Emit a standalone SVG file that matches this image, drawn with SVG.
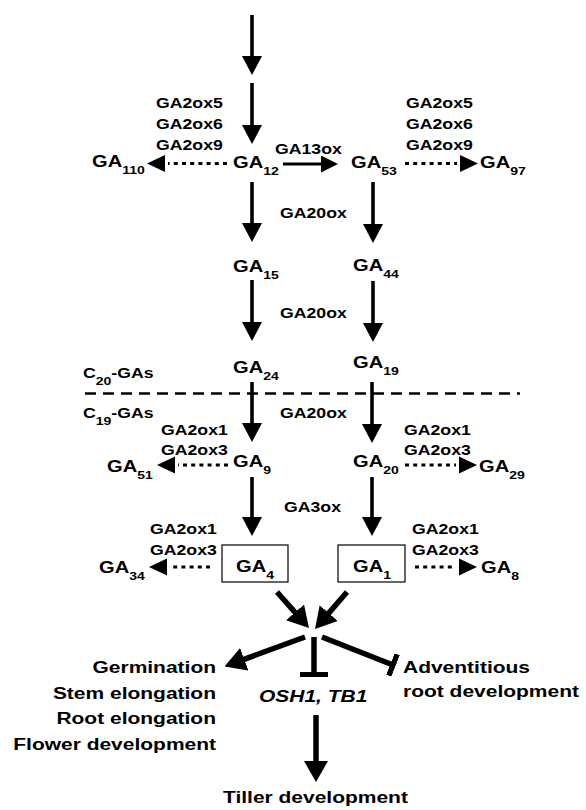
<svg xmlns="http://www.w3.org/2000/svg" width="586" height="810" viewBox="0 0 586 810">
<style>
text{font-family:"Liberation Sans",Arial,Helvetica,sans-serif;font-weight:bold;fill:#000}
.ga{font-size:16.5px}
.lb{font-size:14.5px}
.bt{font-size:17.2px}
.it{font-style:italic}
.sub{font-size:11.5px}
.end{text-anchor:end}
.th{stroke:#000;stroke-width:3.6;fill:none}
.hz{stroke:#000;stroke-width:3;fill:none}
.dt{stroke:#000;stroke-width:3;stroke-dasharray:4 4.2;fill:none}
.tk{stroke:#000;stroke-width:5.5;fill:none}
.dash{stroke:#000;stroke-width:2.5;stroke-dasharray:11 7;fill:none}
.box{fill:#fff;stroke:#000;stroke-width:1.2}
</style>
<defs>
<marker id="hv" markerUnits="userSpaceOnUse" viewBox="0 0 19 20" markerWidth="19" markerHeight="20" refX="1" refY="10" orient="auto"><path d="M0,0 L19,10 L0,20 Z"/></marker>
<marker id="hs" markerUnits="userSpaceOnUse" viewBox="0 0 17 17" markerWidth="17" markerHeight="17" refX="1" refY="8.5" orient="auto"><path d="M0,0 L17,8.5 L0,17 Z"/></marker>
<marker id="hd" markerUnits="userSpaceOnUse" viewBox="0 0 18 17" markerWidth="18" markerHeight="17" refX="-3" refY="8.5" orient="auto" overflow="visible"><path d="M0,0 L18,8.5 L0,17 Z"/></marker>
<marker id="hb" markerUnits="userSpaceOnUse" viewBox="0 0 21 24" markerWidth="21" markerHeight="24" refX="1" refY="12" orient="auto"><path d="M0,0 L21,12 L0,24 Z"/></marker>
<marker id="tee" markerUnits="userSpaceOnUse" viewBox="0 0 5.5 28" markerWidth="5.5" markerHeight="28" refX="2.75" refY="14" orient="auto"><rect x="0" y="0" width="5.5" height="28"/></marker>
<marker id="tee2" markerUnits="userSpaceOnUse" viewBox="0 0 5.5 23" markerWidth="5.5" markerHeight="23" refX="2.75" refY="11.5" orient="auto"><rect x="0" y="0" width="5.5" height="23"/></marker>
</defs>

<g id="connectors">
<line class="th" x1="252" y1="15" x2="252" y2="57" marker-end="url(#hv)"/>
<line class="th" x1="252" y1="83" x2="252" y2="126" marker-end="url(#hv)"/>
<line class="th" x1="252" y1="182" x2="252" y2="224" marker-end="url(#hv)"/>
<line class="th" x1="373" y1="182" x2="373" y2="225" marker-end="url(#hv)"/>
<line class="th" x1="252" y1="280" x2="252" y2="323" marker-end="url(#hv)"/>
<line class="th" x1="373" y1="281" x2="373" y2="324" marker-end="url(#hv)"/>
<line class="th" x1="252" y1="382" x2="252" y2="424" marker-end="url(#hv)"/>
<line class="th" x1="372" y1="382" x2="372" y2="425" marker-end="url(#hv)"/>
<line class="th" x1="252" y1="477" x2="252" y2="518" marker-end="url(#hv)"/>
<line class="th" x1="372" y1="477" x2="372" y2="518" marker-end="url(#hv)"/>
<line class="hz" x1="283" y1="164" x2="322" y2="164" marker-end="url(#hs)"/>
<line class="dt" x1="227" y1="163.5" x2="168" y2="163.5" marker-end="url(#hd)"/>
<line class="dt" x1="405" y1="163.5" x2="457" y2="163.5" marker-end="url(#hd)"/>
<line class="dt" x1="228" y1="465" x2="178" y2="465" marker-end="url(#hd)"/>
<line class="dt" x1="405" y1="465" x2="456" y2="465" marker-end="url(#hd)"/>
<line class="dt" x1="210" y1="567" x2="170" y2="567" marker-end="url(#hd)"/>
<line class="dt" x1="415" y1="567" x2="456" y2="567" marker-end="url(#hd)"/>
<line class="dash" x1="85" y1="393.5" x2="520" y2="393.5"/>
<line class="tk" x1="277" y1="592" x2="295.7" y2="613.1" marker-end="url(#hb)"/>
<line class="tk" x1="347" y1="592" x2="328.1" y2="613.9" marker-end="url(#hb)"/>
<line class="tk" x1="305" y1="637" x2="243.3" y2="659.6" marker-end="url(#hb)"/>
<line class="tk" x1="314" y1="637" x2="314" y2="674.5" marker-end="url(#tee)"/>
<line class="tk" x1="322" y1="637" x2="393" y2="665" marker-end="url(#tee2)"/>
<line class="tk" x1="316" y1="715" x2="316" y2="762" marker-end="url(#hb)"/>
</g>

<g id="enz-2ox-a"><text class="lb" transform="translate(156 108) scale(1.22 1)">GA2ox5</text><text class="lb" transform="translate(156 129) scale(1.22 1)">GA2ox6</text><text class="lb" transform="translate(156 150) scale(1.22 1)">GA2ox9</text></g>
<g id="enz-2ox-b"><text class="lb" transform="translate(406 108) scale(1.22 1)">GA2ox5</text><text class="lb" transform="translate(406 129) scale(1.22 1)">GA2ox6</text><text class="lb" transform="translate(406 150) scale(1.22 1)">GA2ox9</text></g>
<g id="enz-13ox"><text class="lb" transform="translate(275 154) scale(1.22 1)">GA13ox</text></g>
<g id="GA110"><text class="ga" transform="translate(92 167) scale(1.22 1)">GA<tspan class="sub" dy="7">110</tspan></text></g>
<g id="GA12"><text class="ga" transform="translate(233 168) scale(1.22 1)">GA<tspan class="sub" dy="7">12</tspan></text></g>
<g id="GA53"><text class="ga" transform="translate(351 168) scale(1.22 1)">GA<tspan class="sub" dy="7">53</tspan></text></g>
<g id="GA97"><text class="ga" transform="translate(480 168) scale(1.22 1)">GA<tspan class="sub" dy="7">97</tspan></text></g>
<g id="enz-20ox-1"><text class="lb" transform="translate(280 218) scale(1.22 1)">GA20ox</text></g>
<g id="GA15"><text class="ga" transform="translate(233 272) scale(1.22 1)">GA<tspan class="sub" dy="7">15</tspan></text></g>
<g id="GA44"><text class="ga" transform="translate(353 271) scale(1.22 1)">GA<tspan class="sub" dy="7">44</tspan></text></g>
<g id="enz-20ox-2"><text class="lb" transform="translate(280 318) scale(1.22 1)">GA20ox</text></g>
<g id="GA24"><text class="ga" transform="translate(233 373) scale(1.22 1)">GA<tspan class="sub" dy="7">24</tspan></text></g>
<g id="GA19"><text class="ga" transform="translate(353 368) scale(1.22 1)">GA<tspan class="sub" dy="7">19</tspan></text></g>
<g id="C20"><text class="lb" transform="translate(83 378) scale(1.22 1)">C<tspan class="sub" font-size="11" dy="7">20</tspan><tspan dy="-7">-GAs</tspan></text></g>
<g id="C19"><text class="lb" transform="translate(83 418) scale(1.22 1)">C<tspan class="sub" font-size="11" dy="7">19</tspan><tspan dy="-7">-GAs</tspan></text></g>
<g id="enz-20ox-3"><text class="lb" transform="translate(280 418) scale(1.22 1)">GA20ox</text></g>
<g id="enz-2ox-c"><text class="lb" transform="translate(161 435) scale(1.22 1)">GA2ox1</text><text class="lb" transform="translate(161 455) scale(1.22 1)">GA2ox3</text></g>
<g id="enz-2ox-d"><text class="lb" transform="translate(404 435) scale(1.22 1)">GA2ox1</text><text class="lb" transform="translate(404 455) scale(1.22 1)">GA2ox3</text></g>
<g id="GA51"><text class="ga" transform="translate(107 472) scale(1.22 1)">GA<tspan class="sub" dy="7">51</tspan></text></g>
<g id="GA9"><text class="ga" transform="translate(233 467) scale(1.22 1)">GA<tspan class="sub" dy="7">9</tspan></text></g>
<g id="GA20"><text class="ga" transform="translate(353 467) scale(1.22 1)">GA<tspan class="sub" dy="7">20</tspan></text></g>
<g id="GA29"><text class="ga" transform="translate(479 472) scale(1.22 1)">GA<tspan class="sub" dy="7">29</tspan></text></g>
<g id="enz-3ox"><text class="lb" transform="translate(284 512) scale(1.22 1)">GA3ox</text></g>
<g id="enz-2ox-e"><text class="lb" transform="translate(150 534) scale(1.22 1)">GA2ox1</text><text class="lb" transform="translate(150 555) scale(1.22 1)">GA2ox3</text></g>
<g id="enz-2ox-f"><text class="lb" transform="translate(412 534) scale(1.22 1)">GA2ox1</text><text class="lb" transform="translate(412 555) scale(1.22 1)">GA2ox3</text></g>
<g id="GA34"><text class="ga" transform="translate(99 573) scale(1.22 1)">GA<tspan class="sub" dy="7">34</tspan></text></g>
<g id="GA4"><rect class="box" x="222" y="545" width="66" height="37"/><text class="ga" transform="translate(236 572) scale(1.22 1)">GA<tspan class="sub" dy="7">4</tspan></text></g>
<g id="GA1"><rect class="box" x="338" y="545" width="67" height="37"/><text class="ga" transform="translate(353 572) scale(1.22 1)">GA<tspan class="sub" dy="7">1</tspan></text></g>
<g id="GA8"><text class="ga" transform="translate(481 573) scale(1.22 1)">GA<tspan class="sub" dy="7">8</tspan></text></g>
<g id="responses"><text class="bt end" transform="translate(216 673) scale(1.22 1)">Germination</text><text class="bt end" transform="translate(216 699) scale(1.22 1)">Stem elongation</text><text class="bt end" transform="translate(216 724) scale(1.22 1)">Root elongation</text><text class="bt end" transform="translate(216 750) scale(1.22 1)">Flower development</text></g>
<g id="OSH1-TB1"><text class="bt it" transform="translate(259 702) scale(1.22 1)">OSH1, TB1</text></g>
<g id="adventitious"><text class="bt" transform="translate(403 673) scale(1.22 1)">Adventitious</text><text class="bt" transform="translate(403 697) scale(1.22 1)">root development</text></g>
<g id="tiller"><text class="bt" transform="translate(223 803) scale(1.22 1)">Tiller development</text></g>
</svg>
